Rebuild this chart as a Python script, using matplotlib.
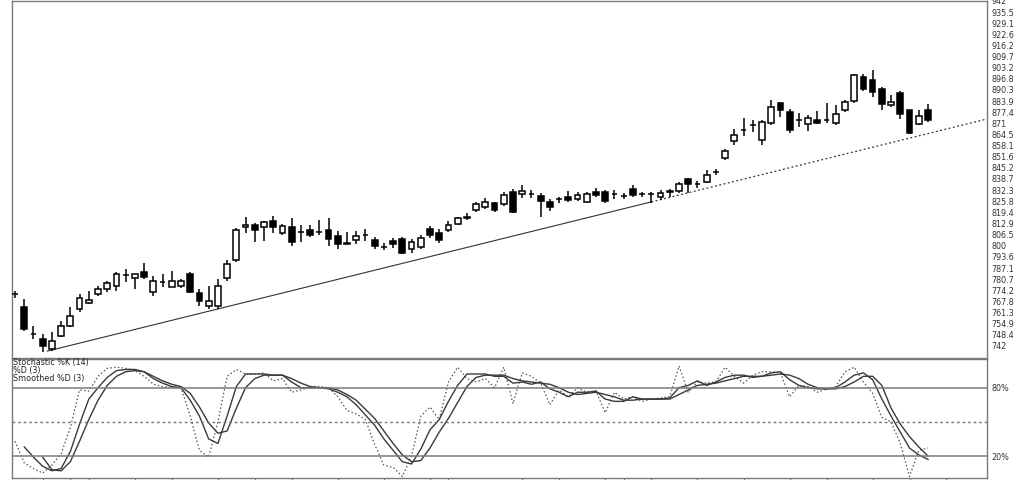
import numpy as np
import matplotlib
matplotlib.use("Agg")
import matplotlib.pyplot as plt

# -----------------------------
# Data
# -----------------------------
opens = [772, 764.5, 749, 746, 740.3, 747.8, 753.5, 763.3, 766.8, 772,
         775, 776.6, 783, 781.2, 784.6, 773, 779, 776, 776.6, 783.5,
         772.5, 765, 765, 781.2, 791.7, 810.8, 812.3, 811.2, 814.6, 807.7,
         811.2, 808, 809, 808.3, 809, 805.5, 801.6, 803.6, 806.5, 803.6,
         799.5, 802.7, 804, 798, 799.5, 809.8, 807.5, 809, 812.9, 817,
         820.6, 822.5, 824.8, 824.2, 831.5, 830.2, 830.2, 829, 825.2, 827,
         828.6, 827, 825.2, 831.5, 831, 830.2, 829, 832.9, 830.2, 830.2,
         828.6, 831.5, 832, 838.6, 836, 837.3, 843, 850.7, 860.7, 867,
         870, 861.3, 871.3, 883, 877.6, 873.2, 870.5, 873.2, 872.8, 871.3,
         879, 884, 898.2, 896.3, 891.1, 881.5, 888.6, 878.6, 870.5, 878.6]
highs = [774, 769, 753.5, 749, 750, 756.4, 764.5, 772, 773.7, 777,
         779.5, 784.6, 786.4, 783.8, 789.8, 782.3, 783.5, 785.2, 780.6, 784.6,
         774.9, 776.6, 781, 792, 810.6, 817, 813.5, 814.3, 817.5, 812.5,
         816, 812.3, 812, 815.2, 816, 808.7, 808, 808.7, 809.5, 805,
         801.6, 804.6, 805, 804, 806.5, 811.5, 809.8, 814.2, 817, 818.8,
         825.7, 827.6, 825.7, 831, 833, 835.2, 832.5, 830.6, 827, 828.6,
         832, 831.5, 831.5, 833.4, 832.2, 832.5, 830.6, 835.4, 831.5, 831.5,
         832.2, 832.9, 836.8, 839.3, 837.5, 844.1, 844.5, 856.4, 867.5, 874.3,
         872.8, 872.8, 884.3, 883.6, 879.5, 877, 875.6, 878.3, 883, 881.5,
         884.8, 899.8, 899.8, 902, 892.1, 887.3, 889.7, 879, 878.6, 882.4]
lows = [770, 750.6, 746, 738.5, 739, 747.2, 753, 761.6, 766.2, 770.8,
        773, 774, 779, 775, 780.6, 770.8, 776, 776, 775.4, 772.4,
        765, 763.3, 763.3, 779.5, 790.6, 807.7, 802.5, 803, 807.7, 806.5,
        800, 802.5, 805, 806.5, 800, 798.1, 800.8, 801, 803, 798,
        797.5, 799, 795, 796, 798, 804.6, 801.6, 808, 812.3, 815,
        819.4, 821.2, 819.8, 823, 818.9, 827.9, 827.6, 816.8, 820, 825,
        825.5, 825.8, 824.6, 828.6, 824.8, 826.9, 827.2, 828.6, 828.6, 825,
        826.5, 828.6, 830.9, 830.9, 833.7, 836.7, 841, 849.7, 858.3, 863.5,
        866, 858.3, 870, 874.9, 865.3, 868.7, 866.5, 870.9, 871.1, 869.8,
        877.6, 883, 890, 886.6, 879, 880.6, 873.8, 865.1, 869.9, 871.9]
closes = [772.3, 751.8, 749, 742, 745, 753.5, 759.3, 769.7, 768.5, 775,
          778.3, 783.5, 783, 783.5, 781.8, 779.5, 779, 779.5, 779.5, 773,
          768, 768, 776.6, 789.3, 809.4, 812.2, 809.4, 814, 811.2, 811.7,
          802.5, 808, 806.5, 807.8, 804.2, 800.8, 800.8, 805.5, 806.5, 800.2,
          799.5, 800.8, 796, 802, 804.6, 806.5, 803.6, 812.3, 816, 816,
          824.4, 825.7, 820.6, 829.6, 819.4, 832, 830.2, 826.3, 822.5, 827,
          826.7, 829.6, 830.2, 829.6, 826.3, 830.2, 829, 829.6, 830.2, 830.2,
          830.6, 831.5, 836, 836, 836, 841.1, 843, 855.1, 864.2, 867,
          870, 871.9, 880.5, 878.6, 867, 873.2, 874.3, 871.5, 872.8, 876.3,
          883.4, 898.8, 891.1, 889.2, 882, 883.4, 876.7, 865.5, 875.1, 872.8]

stoch_k = [33, 14, 9, 5, 12, 22, 45, 78, 77, 90,
           97, 98, 97, 95, 90, 83, 81, 80, 80, 55,
           25, 19, 50, 90, 96, 92, 92, 93, 86, 88,
           76, 78, 81, 81, 80, 72, 60, 57, 52, 30,
           12, 10, 2, 20, 55, 63, 52, 85, 98, 88,
           85, 88, 80, 98, 66, 93, 90, 84, 65, 78,
           72, 80, 76, 77, 58, 76, 70, 72, 68, 70,
           71, 72, 99, 76, 85, 84, 85, 98, 90, 84,
           91, 94, 94, 93, 72, 82, 81, 76, 79, 81,
           94, 98, 85, 75, 54, 50, 31, 2, 25, 27]
stoch_d = [np.nan, 28, 19, 11, 7, 9, 24, 48, 70, 80,
           89, 95, 96, 96, 94, 88, 84, 81, 80, 69,
           55, 35, 31, 55, 81, 92, 92, 92, 91, 91,
           85, 80, 80, 80, 79, 76, 72, 65, 56, 47,
           35, 25, 15, 13, 26, 43, 52, 68, 82, 92,
           92, 92, 90, 90, 84, 85, 83, 85, 79, 76,
           72, 76, 76, 77, 70, 68, 68, 72, 70, 70,
           70, 71, 80, 82, 86, 82, 85, 89, 91, 91,
           89, 90, 93, 94, 87, 82, 80, 79, 79, 80,
           85, 91, 93, 87, 70, 55, 41, 27, 21, 17]
stoch_sd = [np.nan, np.nan, np.nan, 19, 8, 7, 15, 33, 52, 69,
            82, 90, 94, 95, 94, 90, 86, 83, 81, 75,
            63, 49, 40, 42, 62, 80, 88, 91, 91, 91,
            88, 84, 81, 80, 80, 78, 74, 69, 61, 53,
            42, 31, 21, 15, 16, 27, 41, 53, 67, 81,
            89, 91, 91, 91, 88, 86, 85, 84, 83, 80,
            76, 74, 75, 76, 74, 72, 69, 69, 70, 70,
            70, 70, 74, 78, 82, 83, 84, 86, 88, 90,
            90, 90, 91, 92, 91, 88, 83, 80, 79, 79,
            81, 85, 90, 90, 82, 62, 48, 37, 28, 20]

# trend line drawn on the chart (bar index, price)
trend_x = [3.5, 69.0]
trend_y = [739.0, 825.5]

price_labels = ["742", "748.4", "754.9", "761.3", "767.8", "774.2", "780.7", "787.1",
                "793.6", "800", "806.5", "812.9", "819.4", "825.8", "832.3", "838.7",
                "845.2", "851.6", "858.1", "864.5", "871", "877.4", "883.9", "890.3",
                "896.8", "903.2", "909.7", "916.2", "922.6", "929.1", "935.5", "942"]
# bar indices of the date ticks under the lower panel
date_ticks = [3, 6, 8, 13, 17, 22, 26, 30, 35, 40, 45, 47, 55, 59, 64, 66,
              69, 74, 79, 84, 88, 93, 97, 101]

# -----------------------------
# Figure
# -----------------------------
fig = plt.figure(figsize=(10.15, 4.8), dpi=100)
ax = fig.add_axes([0.0118, 0.2542, 0.9606, 0.7438])
ax2 = fig.add_axes([0.0118, 0.0042, 0.9606, 0.2479])

edge = "#7a7a7a"
xmin, xmax = -0.33, 105.4

# candles
x = np.arange(len(opens))
o = np.array(opens)
c = np.array(closes)
up = c >= o
ax.vlines(x, lows, highs, color="black", linewidth=1.1, zorder=2)
body_bottom = np.minimum(o, c)
body_h = np.maximum(np.abs(c - o), 0.05)
ax.bar(x, body_h, bottom=body_bottom, width=0.62,
       color=np.where(up, "white", "black"), edgecolor="black", linewidth=1.1, zorder=3)

# trend line: solid between touch points, dotted extension
slope = (trend_y[1] - trend_y[0]) / (trend_x[1] - trend_x[0])
ax.plot(trend_x, trend_y, color="#333333", linewidth=0.8, zorder=1)
ax.plot([trend_x[1], xmax], [trend_y[1], trend_y[1] + slope * (xmax - trend_x[1])],
        color="#333333", linewidth=0.9, linestyle=(0, (1.5, 2)), zorder=1)

ax.set_xlim(xmin, xmax)
ax.set_ylim(735.0, 942.0)
ax.yaxis.tick_right()
ax.set_yticks(np.linspace(742, 942, len(price_labels)))
ax.set_yticklabels(price_labels)
ax.tick_params(axis="y", length=0, pad=3, labelsize=5.8, labelcolor="#333333")
ax.set_xticks([])
for s in ax.spines.values():
    s.set_color(edge)
    s.set_linewidth(1.0)

# stochastic panel
ax2.plot(x, stoch_k, color="#555555", linewidth=0.9, linestyle=(0, (1.2, 1.8)))
ax2.plot(x, stoch_d, color="#3a3a3a", linewidth=1.0)
ax2.plot(x, stoch_sd, color="#3a3a3a", linewidth=1.0)
ax2.axhline(80, color=edge, linewidth=1.1)
ax2.axhline(20, color=edge, linewidth=1.1)
ax2.axhline(50, color=edge, linewidth=1.0, linestyle=(0, (2, 2)))
ax2.set_xlim(xmin, xmax)
ax2.set_ylim(0.7, 105.2)
ax2.yaxis.tick_right()
ax2.set_yticks([20, 80])
ax2.set_yticklabels(["20%", "80%"])
ax2.tick_params(axis="y", length=0, pad=3, labelsize=5.8, labelcolor="#333333")
ax2.set_xticks(date_ticks)
ax2.tick_params(axis="x", length=3, direction="out", color=edge, labelbottom=False)
for s in ax2.spines.values():
    s.set_color(edge)
    s.set_linewidth(1.0)

legend_lines = ["Stochastic %K (14)", "%D (3)", "Smoothed %D (3)"]
for k, txt in enumerate(legend_lines):
    ax2.text(0.0015, 0.972 - k * 0.068, txt, transform=ax2.transAxes,
             fontsize=5.8, color="#222222", va="center", ha="left")

fig.savefig("out.png", dpi=100)
